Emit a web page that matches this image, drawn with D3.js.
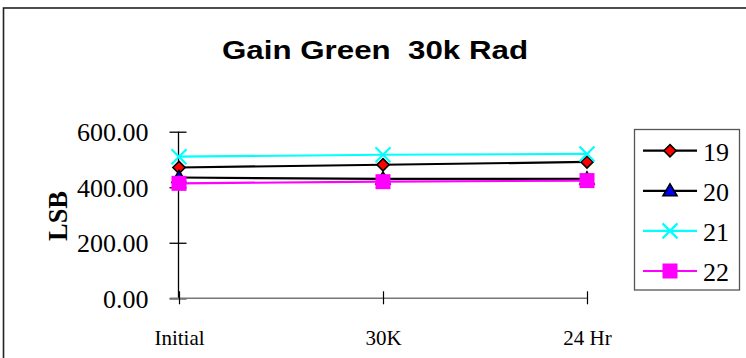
<!DOCTYPE html>
<html>
<head>
<meta charset="utf-8">
<script src="https://cdn.jsdelivr.net/npm/d3@7"></script>
<style>
  body { margin: 0; background: #fff; }
  svg { display: block; }
  .serif { font-family: "Liberation Serif", "Times New Roman", Times, serif; }
</style>
</head>
<body>
<div id="chart"></div>
<script>
// chart data
var categories = ["Initial", "30K", "24 Hr"];
var seriesNames = ["19", "20", "21", "22"];
var s19 = [471, 481, 491];
var s20 = [435, 430, 430];
var s21 = [510, 517, 520];
var s22 = [414, 420, 424];
var yTicks = [0, 200, 400, 600];

var width = 746, height = 358;

var series = [
  {name: seriesNames[0], values: s19, line: "#000000", marker: "diamond", fill: "#ff0000"},
  {name: seriesNames[1], values: s20, line: "#000000", marker: "triangle", fill: "#0000ff"},
  {name: seriesNames[2], values: s21, line: "#00ffff", marker: "cross", fill: "none"},
  {name: seriesNames[3], values: s22, line: "#ff00ff", marker: "square", fill: "#ff00ff"}
];

var svg = d3.select("#chart").append("svg")
    .attr("width", width)
    .attr("height", height);

// outer chart frame (runs off the right and bottom edge)
svg.append("rect")
    .attr("x", 3.5).attr("y", 8)
    .attr("width", 800).attr("height", 400)
    .style("fill", "#fff")
    .style("stroke", "#222")
    .style("stroke-width", 1.6);

// title
svg.append("text")
    .attr("x", 375).attr("y", 59)
    .attr("text-anchor", "middle")
    .attr("textLength", 306)
    .attr("lengthAdjust", "spacingAndGlyphs")
    .style("font-family", "'Liberation Sans', Arial, sans-serif")
    .style("font-weight", "bold")
    .style("font-size", "25px")
    .style("white-space", "pre")
    .text("Gain Green  30k Rad");

var x = d3.scalePoint()
    .domain(categories)
    .range([179, 587]);

var y = d3.scaleLinear()
    .domain([0, 600])
    .range([298.3, 131.7]);

// y axis
var yAxis = svg.append("g")
    .attr("transform", "translate(178.5,0)")
    .call(d3.axisLeft(y).tickValues(yTicks).tickSize(9).tickPadding(21)
        .tickFormat(d3.format(".2f")));
yAxis.attr("font-family", null).attr("font-size", null);
yAxis.select(".domain").attr("d", "M0," + y(600) + "V" + y(0)).style("stroke", "#000").style("stroke-width", 1.3);
yAxis.selectAll(".tick line").attr("x1", 8).attr("x2", -9).style("stroke", "#000").style("stroke-width", 1.3);
yAxis.selectAll(".tick text")
    .attr("class", "serif")
    .attr("dy", "9px")
    .style("font-size", "26px")
    .style("fill", "#000");

// x axis
var xAxis = svg.append("g")
    .attr("transform", "translate(0," + y(0) + ")")
    .call(d3.axisBottom(x).tickSize(6).tickPadding(20));
xAxis.attr("font-family", null).attr("font-size", null);
xAxis.select(".domain").attr("d", "M170,0H587").style("stroke", "#777").style("stroke-width", 1.5);
xAxis.selectAll(".tick line").attr("y1", -7).attr("y2", 6).style("stroke", "#000").style("stroke-width", 1.2);
xAxis.selectAll(".tick text")
    .attr("class", "serif")
    .attr("dy", "21px")
    .style("font-size", "21px")
    .style("fill", "#000");

// y axis title
svg.append("text")
    .attr("class", "serif")
    .attr("transform", "translate(67,216) rotate(-90)")
    .attr("text-anchor", "middle")
    .attr("textLength", 50)
    .attr("lengthAdjust", "spacingAndGlyphs")
    .style("font-weight", "bold")
    .style("font-size", "27px")
    .text("LSB");

function drawMarker(g, type, fill, cx, cy) {
  if (type === "diamond") {
    g.append("path")
      .attr("d", d3.symbol().type(d3.symbolDiamond2).size(95)())
      .attr("transform", "translate(" + cx + "," + cy + ")")
      .style("fill", fill).style("stroke", "#000").style("stroke-width", 1.6);
  } else if (type === "triangle") {
    g.append("path")
      .attr("d", "M0,-7L7,5L-7,5Z")
      .attr("transform", "translate(" + cx + "," + cy + ")")
      .style("fill", fill).style("stroke", "#000").style("stroke-width", 1.6);
  } else if (type === "square") {
    g.append("rect")
      .attr("x", cx - 7.5).attr("y", cy - 7.5)
      .attr("width", 15).attr("height", 15)
      .style("fill", fill);
  } else if (type === "cross") {
    g.append("path")
      .attr("d", "M-7.5,-7.5L7.5,7.5M-7.5,7.5L7.5,-7.5")
      .attr("transform", "translate(" + cx + "," + cy + ")")
      .style("fill", "none").style("stroke", "#00ffff").style("stroke-width", 2.2);
  }
}

var line = d3.line()
    .x(function(d, i) { return x(categories[i]); })
    .y(function(d) { return y(d); });

var plot = svg.append("g");
series.forEach(function(s) {
  var g = plot.append("g");
  g.append("path")
    .datum(s.values)
    .attr("d", line)
    .style("fill", "none")
    .style("stroke", s.line)
    .style("stroke-width", 2.2);
  s.values.forEach(function(v, i) {
    drawMarker(g, s.marker, s.fill, x(categories[i]), y(v));
  });
});

// legend
var legend = svg.append("g");
legend.append("rect")
    .attr("x", 634.5).attr("y", 129.5)
    .attr("width", 105).attr("height", 160.5)
    .style("fill", "#fff")
    .style("stroke", "#555")
    .style("stroke-width", 1.3);

var legendY = d3.scalePoint()
    .domain(seriesNames)
    .range([150.7, 271]);

series.forEach(function(s) {
  var ly = legendY(s.name);
  var g = legend.append("g");
  g.append("line")
    .attr("x1", 643).attr("x2", 697)
    .attr("y1", ly).attr("y2", ly)
    .style("stroke", s.line)
    .style("stroke-width", 2.2);
  drawMarker(g, s.marker, s.fill, 670, ly);
  g.append("text")
    .attr("class", "serif")
    .attr("x", 703).attr("y", ly + 10)
    .style("font-size", "26px")
    .text(s.name);
});
</script>
</body>
</html>
